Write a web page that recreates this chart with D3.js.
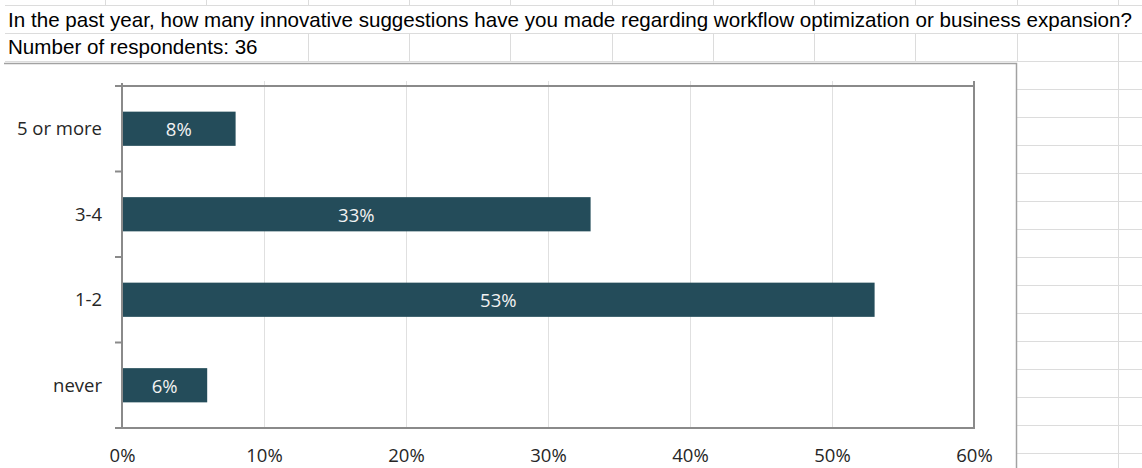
<!DOCTYPE html>
<html lang="en">
<head>
<meta charset="UTF-8">
<title>Innovative suggestions</title>
<script src="https://d3js.org/d3.v7.min.js"></script>
<style>
  body { margin: 0; background: #fff; }
  svg { display: block; }
  .cell-text { font-family: "Liberation Sans", Arial, sans-serif; font-size: 20.6px; fill: #000; }
  .axis text { font-family: "Open Sans", sans-serif; font-size: 18.5px; fill: #262626; }
  .bar-label { font-family: "Open Sans", sans-serif; font-size: 18.5px; fill: #f2f2f2; }
</style>
</head>
<body>
<div id="chart"></div>
<script>
  // data
  var categories = ["5 or more", "3-4", "1-2", "never"];
  var shares = [0.08, 0.33, 0.53, 0.06];
  var xTicks = [0, 0.1, 0.2, 0.3, 0.4, 0.5, 0.6];
  var question = "In the past year, how many innovative suggestions have you made regarding workflow optimization or business expansion?";
  var subtitle = "Number of respondents: 36";

  var W = 1142, H = 468;
  var gridColor = "#dcdcdc";

  var svg = d3.select("#chart").append("svg")
      .attr("width", W)
      .attr("height", H);

  // spreadsheet cell grid behind everything
  var colX = d3.range(105, W, 101.3);
  var grid = svg.append("g").attr("stroke", gridColor).attr("stroke-width", 1);

  // top stubs of the row above
  grid.selectAll(".stub").data(colX).enter().append("line")
      .attr("x1", function(d) { return Math.round(d) + 0.5; })
      .attr("x2", function(d) { return Math.round(d) + 0.5; })
      .attr("y1", 0).attr("y2", 5);

  [5.5, 33.5, 61.5].forEach(function(y) {
    grid.append("line").attr("x1", 5).attr("x2", W).attr("y1", y).attr("y2", y);
  });

  // row 2 has borders only after the text
  grid.selectAll(".row2").data(colX.filter(function(d) { return d > 300; })).enter().append("line")
      .attr("x1", function(d) { return Math.round(d) + 0.5; })
      .attr("x2", function(d) { return Math.round(d) + 0.5; })
      .attr("y1", 33).attr("y2", 62);

  // rows to the right of the chart object
  d3.range(89.5, H, 28).forEach(function(y) {
    grid.append("line").attr("x1", 1017).attr("x2", W).attr("y1", y).attr("y2", y);
  });
  grid.append("line").attr("x1", 1118.5).attr("x2", 1118.5).attr("y1", 62).attr("y2", H);

  // cell text
  svg.append("text").attr("class", "cell-text").attr("x", 8).attr("y", 27)
      .attr("textLength", 1124).attr("lengthAdjust", "spacing")
      .text(question);
  svg.append("text").attr("class", "cell-text").attr("x", 8).attr("y", 54).text(subtitle);

  // chart object (only top and right edges show)
  svg.append("rect")
      .attr("x", 4).attr("y", 63)
      .attr("width", 1013).attr("height", H)
      .attr("fill", "#fff");
  svg.append("path")
      .attr("d", "M4,63.5H1016.5V" + H)
      .attr("fill", "none")
      .attr("stroke", "#a2a2a2")
      .attr("stroke-width", 1.5);

  var margin = {top: 86, right: 168, bottom: 40, left: 122};
  var plotW = W - margin.left - margin.right,
      plotH = 428 - margin.top;

  var g = svg.append("g")
      .attr("transform", "translate(" + margin.left + "," + margin.top + ")");

  var x = d3.scaleLinear()
      .domain([0, 0.6])
      .range([0, plotW]);

  var y = d3.scaleBand()
      .domain(categories)
      .range([0, plotH])
      .paddingInner(0.6)
      .paddingOuter(0.3);

  // vertical gridlines
  g.append("g").selectAll("line")
      .data(xTicks.slice(1, -1))
      .enter().append("line")
      .attr("x1", function(d) { return Math.round(x(d)) + 0.5; })
      .attr("x2", function(d) { return Math.round(x(d)) + 0.5; })
      .attr("y1", -5).attr("y2", plotH)
      .attr("stroke", "#e0e0e0");

  // bars
  var rows = categories.map(function(c, i) { return {cat: c, v: shares[i]}; });

  g.selectAll(".bar")
      .data(rows)
      .enter().append("rect")
      .attr("class", "bar")
      .attr("x", 0)
      .attr("y", function(d) { return y(d.cat); })
      .attr("width", function(d) { return x(d.v); })
      .attr("height", y.bandwidth())
      .attr("fill", "#244c5a");

  g.selectAll(".bar-label")
      .data(rows)
      .enter().append("text")
      .attr("class", "bar-label")
      .attr("x", function(d) { return x(d.v) / 2; })
      .attr("y", function(d) { return y(d.cat) + y.bandwidth() / 2; })
      .attr("dy", "0.4em")
      .attr("text-anchor", "middle")
      .text(function(d) { return d3.format(".0%")(d.v); });

  // plot frame: top and right
  var frame = "#8a8a8a";
  g.append("line").attr("x1", 0).attr("x2", plotW + 1).attr("y1", 0).attr("y2", 0)
      .attr("stroke", frame).attr("stroke-width", 2);
  g.append("line").attr("x1", plotW).attr("x2", plotW).attr("y1", -5).attr("y2", plotH)
      .attr("stroke", frame).attr("stroke-width", 2);

  // y axis: labels and ticks at the category borders
  var yAxis = g.append("g")
      .attr("class", "axis")
      .call(d3.axisLeft(y).tickSize(0).tickPadding(20));
  yAxis.select(".domain").remove();
  yAxis.selectAll("text").attr("dy", "0.36em");

  var borders = d3.range(categories.length + 1).map(function(i) {
    return i === categories.length ? plotH : y.step() * i;
  });
  g.append("g").selectAll("line")
      .data(borders)
      .enter().append("line")
      .attr("x1", -7).attr("x2", 0)
      .attr("y1", function(d) { return d; })
      .attr("y2", function(d) { return d; })
      .attr("stroke", frame).attr("stroke-width", 2);
  g.append("line").attr("x1", 0).attr("x2", 0).attr("y1", -3).attr("y2", plotH + 1)
      .attr("stroke", frame).attr("stroke-width", 2);

  // x axis
  var xAxis = g.append("g")
      .attr("class", "axis")
      .attr("transform", "translate(0," + plotH + ")")
      .call(d3.axisBottom(x).tickValues(xTicks).tickFormat(d3.format(".0%")).tickSize(0).tickPadding(21));
  xAxis.select(".domain").remove();
  g.append("line").attr("x1", -7).attr("x2", plotW + 1).attr("y1", plotH).attr("y2", plotH)
      .attr("stroke", frame).attr("stroke-width", 2);
</script>
</body>
</html>
